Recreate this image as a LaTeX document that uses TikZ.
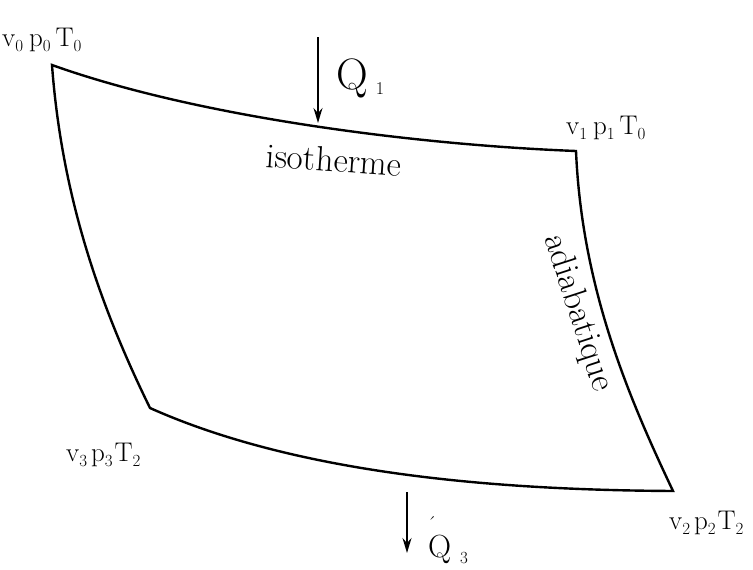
\documentclass[tikz,border=0pt]{standalone}
\usetikzlibrary{arrows.meta}
\newcommand\sbs[1]{\raisebox{-0.2em}{\fontsize{17}{17}\selectfont #1}}
\begin{document}
\begin{tikzpicture}[x=1pt,y=-1pt,
  edge/.style={line width=2.4pt, line join=miter},
  heat/.style={line width=1.8pt, -{Stealth[length=15pt,width=9pt,inset=5pt]}},
  statelbl/.style={inner sep=0pt, anchor=base west, font=\fontsize{27}{29}\selectfont},
  curvelbl/.style={inner sep=0pt, font=\fontsize{35}{37}\selectfont}]
\useasboundingbox (0,0) rectangle (753,570);
% corners of the cycle
\coordinate (A) at (52,65);
\coordinate (B) at (576,151);
\coordinate (C) at (673,491);
\coordinate (D) at (150,408);
\draw[edge] (A) .. controls (200,118) and (420,145) .. (B)
  .. controls (582,290) and (630,400) .. (C)
  .. controls (500,490) and (300,475) .. (D)
  .. controls (102,310) and (62,200) .. (A) -- cycle;
% heat arrows
\coordinate (q1s) at (318,37);
\coordinate (q1e) at (318,123);
\draw[heat] (q1s) -- (q1e);
\coordinate (q3s) at (407,492);
\coordinate (q3e) at (407,553);
\draw[heat] (q3s) -- (q3e);
% state labels
\node[statelbl] (s0) at (2,46) {v\sbs{0}\hspace{6pt}p\sbs{0}\hspace{5pt}T\sbs{0}};
\node[statelbl] (s1) at (566,134) {v\sbs{1}\hspace{6pt}p\sbs{1}\hspace{5pt}T\sbs{0}};
\node[statelbl] (s3) at (66,461) {v\sbs{3}\hspace{4pt}p\sbs{3}\hspace{2pt}T\sbs{2}};
\node[statelbl] (s2) at (669,529) {v\sbs{2}\hspace{4pt}p\sbs{2}\hspace{2pt}T\sbs{2}};
% heat labels
\node[inner sep=0pt, anchor=base west, font=\fontsize{44}{44}\selectfont] (Q1) at (336,89)
  {Q\kern8pt\raisebox{-5pt}{\fontsize{18}{18}\selectfont 1}};
\node[inner sep=0pt, anchor=base west, font=\fontsize{32}{32}\selectfont] (Q3) at (428,557)
  {\rlap{\kern-1pt\raisebox{27pt}{\fontsize{20}{20}\selectfont\char"00B4}}Q\kern9pt\raisebox{-6pt}{\fontsize{17}{17}\selectfont 3}};
% curve labels
\node[curvelbl, rotate=-4] (iso) at (334,160) {isotherme};
\node[curvelbl, rotate=-72] (adi) at (578,313) {adiabatique};
\end{tikzpicture}
\end{document}
